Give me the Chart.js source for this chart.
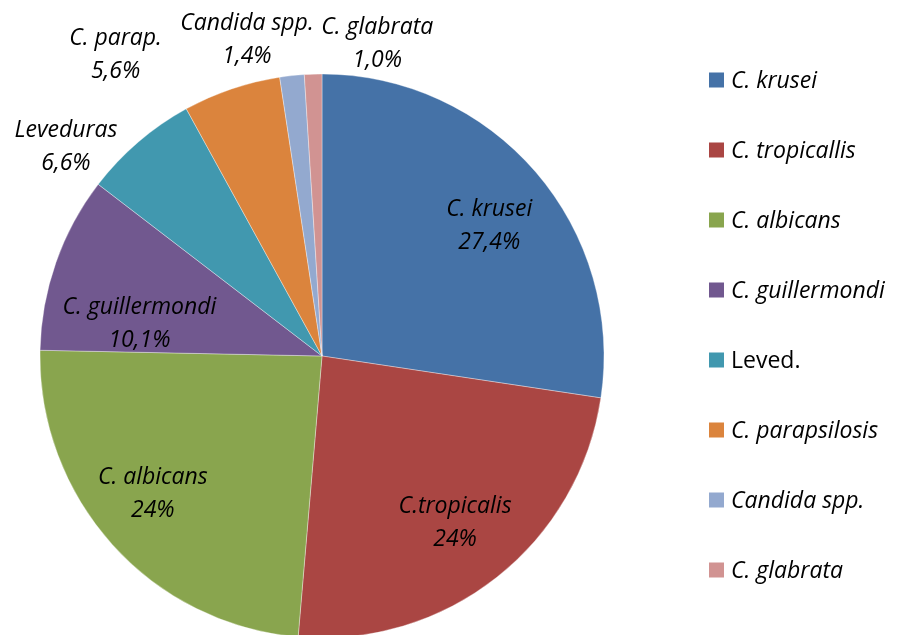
<!DOCTYPE html>
<html>
<head>
<meta charset="utf-8">
<script src="https://cdn.jsdelivr.net/npm/chart.js@4.4.1/dist/chart.umd.min.js"></script>
<style>
  html, body { margin: 0; padding: 0; background: #fff; }
</style>
</head>
<body>
<canvas id="pieChart" width="906" height="635"></canvas>
<script>
// data
const labels = ['C. krusei', 'C. tropicallis', 'C. albicans', 'C. guillermondi', 'Leved.', 'C. parapsilosis', 'Candida spp.', 'C. glabrata'];
const values = [27.4, 24, 24, 10.1, 6.6, 5.6, 1.4, 1.0];
const sliceNames = ['C. krusei', 'C.tropicalis', 'C. albicans', 'C. guillermondi', 'Leveduras', 'C. parap.', 'Candida spp.', 'C. glabrata'];
const sliceValues = ['27,4%', '24%', '24%', '10,1%', '6,6%', '5,6%', '1,4%', '1,0%'];
const legendItalic = [true, true, true, true, false, true, true, true];
const colors = ['#4572A7', '#AA4643', '#89A54E', '#71588F', '#4198AF', '#DB843D', '#93A9CF', '#D19392'];

// where each slice label sits: fraction of radius along the mid angle, plus a nudge
const labelPlace = [
  { f: 0.75, dx: 7, dy: 8 },
  { f: 0.75, dx: 2, dy: 1 },
  { f: 0.75, dx: -12, dy: -4 },
  { f: 0.75, dx: 17, dy: 38 },
  { f: 1.1, dx: -54, dy: 26 },
  { f: 1.1, dx: -107, dy: -7 },
  { f: 1.1, dx: -42, dy: -8 },
  { f: 1.1, dx: 65, dy: -2 }
];

const FONT = '"Open Sans"';
const FONT_SIZE = 23;

const sliceLabelPlugin = {
  id: 'sliceLabels',
  afterDatasetsDraw(chart) {
    const ctx = chart.ctx;
    const arcs = chart.getDatasetMeta(0).data;
    ctx.save();
    ctx.fillStyle = '#000';
    ctx.textAlign = 'center';
    ctx.textBaseline = 'middle';
    ctx.font = 'italic ' + FONT_SIZE + 'px ' + FONT;
    arcs.forEach((arc, i) => {
      const p = arc.getProps(['x', 'y', 'startAngle', 'endAngle', 'outerRadius'], true);
      const mid = (p.startAngle + p.endAngle) / 2;
      const r = p.outerRadius * labelPlace[i].f;
      const cx = p.x + Math.cos(mid) * r + labelPlace[i].dx;
      const cy = p.y + Math.sin(mid) * r + labelPlace[i].dy;
      ctx.fillText(sliceNames[i], cx, cy - 16.5);
      ctx.fillText(sliceValues[i], cx, cy + 16.5);
    });
    ctx.restore();
  }
};

const legendPlugin = {
  id: 'sideLegend',
  afterDraw(chart) {
    const ctx = chart.ctx;
    const boxX = 709, textX = 731, firstY = 80, step = 70, box = 15;
    ctx.save();
    ctx.textBaseline = 'middle';
    ctx.textAlign = 'left';
    labels.forEach((lab, i) => {
      const y = firstY + i * step;
      ctx.fillStyle = colors[i];
      ctx.fillRect(boxX, y - box / 2, box, box);
      ctx.fillStyle = '#000';
      ctx.font = (legendItalic[i] ? 'italic ' : '') + FONT_SIZE + 'px ' + FONT;
      ctx.fillText(lab, textX, y + 1);
    });
    ctx.restore();
  }
};

const ctx = document.getElementById('pieChart').getContext('2d');
new Chart(ctx, {
  type: 'pie',
  data: {
    labels: labels,
    datasets: [{
      data: values,
      backgroundColor: colors,
      borderColor: 'rgba(255, 255, 255, 0.35)',
      borderWidth: 1,
      hoverOffset: 0
    }]
  },
  options: {
    responsive: false,
    animation: false,
    radius: 282,
    layout: {
      padding: { left: 40, right: 302, top: 77, bottom: -6 }
    },
    plugins: {
      legend: { display: false },
      tooltip: { enabled: false }
    }
  },
  plugins: [sliceLabelPlugin, legendPlugin]
});
</script>
</body>
</html>
